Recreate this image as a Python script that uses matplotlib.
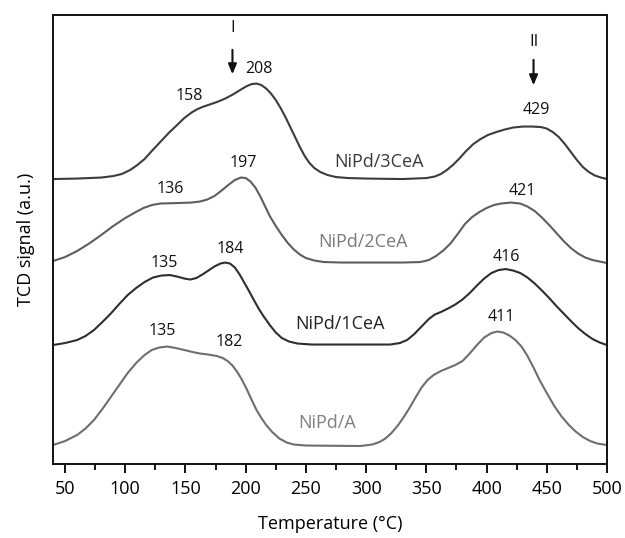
import matplotlib
matplotlib.use("Agg")
import matplotlib.pyplot as plt

plt.rcParams['font.family'] = ['Open Sans', 'DejaVu Sans']

# ---- data (TCD signal, a.u., curves already vertically offset) ----
T_3ce = [40, 60, 80, 90, 97, 104, 110, 116, 122, 129, 136, 143, 149, 155, 160, 165, 170, 176, 183, 190,
         196, 201, 205, 209, 213, 217, 221, 225, 229, 233, 237, 241, 245, 249, 253, 257, 262, 268, 275,
         285, 300, 330, 350, 357, 362, 367, 372, 377, 383, 389, 395, 401, 408, 415, 422, 430, 438, 445,
         450, 455, 460, 465, 470, 475, 480, 485, 490, 495, 500]
S_3ce = [285, 285.5, 286.5, 288, 290, 294, 299, 305, 313, 322, 331, 339, 346, 351.5, 355, 357.5, 359.5,
         362, 365.5, 370, 374.5, 378, 380, 380.5, 379, 375.5, 370.5, 364, 356, 347, 337, 327, 317, 308,
         301, 296, 292, 289, 287, 286, 285.5, 285, 286, 287.5, 290, 294, 299, 305, 313, 320, 325, 329,
         332, 334.5, 336.5, 337.5, 337.5, 337, 335.5, 332, 327, 320, 312, 304, 297, 292, 288.5, 286.5, 285]

T_2ce = [40, 50, 60, 70, 80, 90, 100, 108, 115, 122, 129, 143, 155, 162, 168, 174, 180, 186, 191, 196,
         200, 204, 208, 212, 216, 220, 225, 230, 235, 240, 245, 250, 257, 265, 280, 330, 345, 352, 358,
         364, 370, 376, 382, 388, 394, 400, 406, 412, 420, 428, 434, 440, 446, 452, 458, 464, 470, 476,
         482, 488, 494, 500]
S_2ce = [203, 207, 213, 220.5, 229, 238, 246, 251.5, 256, 259, 260.5, 261, 261.5, 262.5, 264.5, 268,
         273.5, 279.5, 284, 286.5, 286, 282.5, 276.5, 268, 258, 248, 238, 229, 221, 214.5, 209.5, 206,
         203.5, 202, 201.5, 201.5, 202, 204, 208, 213.5, 220.5, 230, 240, 247, 252, 256, 259, 260.5,
         261.5, 260.5, 257.5, 253, 246.5, 239, 231, 223, 216, 210.5, 206.5, 204, 202.5, 201]

T_1ce = [40, 50, 60, 67, 74, 81, 88, 95, 102, 109, 116, 123, 130, 137, 143, 149, 154, 159, 164, 169,
         174, 179, 183, 187, 191, 195, 199, 203, 207, 211, 215, 220, 225, 230, 236, 243, 255, 300, 320,
         328, 334, 340, 346, 352, 357, 362, 368, 374, 380, 386, 392, 398, 404, 410, 416, 422, 428, 434,
         440, 446, 452, 458, 464, 470, 476, 482, 488, 494, 500]
S_1ce = [119, 121, 124, 128, 134, 142, 150.5, 160, 169, 176, 182, 186.5, 188.5, 189, 187.5, 185.5,
         184.5, 186, 189.5, 193.5, 197.5, 200.5, 201.5, 200.5, 196.5, 189.5, 181, 172.5, 163.5, 155,
         147.5, 139, 131.5, 126, 122.5, 120.5, 119.5, 119.5, 119.5, 121, 124, 130, 137.5, 145, 149.5,
         152, 155.5, 159.5, 164.5, 171, 178.5, 185.5, 191, 194, 195, 193.5, 191, 186.5, 180.5, 173.5,
         166, 158, 150.5, 143, 136, 130, 125, 121.5, 119]

T_a = [40, 50, 60, 67, 74, 81, 88, 95, 102, 109, 116, 122, 128, 135, 142, 149, 156, 162, 169, 176, 181,
       185, 189, 193, 197, 201, 205, 209, 213, 217, 222, 228, 234, 240, 250, 295, 305, 311, 316, 321,
       326, 331, 336, 341, 346, 351, 356, 362, 368, 374, 380, 386, 392, 398, 404, 409, 414, 419, 424,
       429, 434, 439, 444, 450, 456, 462, 468, 474, 480, 486, 492, 500]
S_a = [19, 23, 29, 35.5, 44, 55, 67, 79, 91, 101, 109, 114, 116.5, 117.5, 116, 114, 112, 110.5, 109.5,
       108, 106, 103, 98.5, 92, 84, 74.5, 64, 54, 46, 39, 32, 25.5, 21.5, 19.5, 18.5, 18, 19.5, 22,
       25.5, 31, 38, 46.5, 56, 66.5, 76.5, 84, 89, 93, 96, 99, 103, 110.5, 119, 126.5, 131, 132.5,
       131.5, 128.5, 124, 117.5, 108, 96.5, 84, 71, 58.5, 48, 39.5, 32.5, 27, 23, 20.5, 19]

sample_names = ["NiPd/3CeA", "NiPd/2CeA", "NiPd/1CeA", "NiPd/A"]
name_pos = [(311, 302.5), (297, 222), (278, 140), (268, 41)]

peak_labels = ["158", "208", "429", "136", "197", "421", "135", "184", "416", "135", "182", "411"]
peak_pos = [(153, 368), (211, 395), (441, 354), (137, 275), (198, 301.5), (430, 273),
            (132, 201), (187, 215.5), (416, 207.5), (131, 133.5), (186, 122.5), (412, 147.5)]

region_labels = ["I", "II"]
region_x = [189, 439]

# ---- figure ----
fig = plt.figure(figsize=(6.25, 5.38), dpi=100)
ax = fig.add_axes([0.0848, 0.1375, 0.8864, 0.8345])

line_cols = ["#3c3c3c", "#5e5e5e", "#2e2e2e", "#6e6e6e"]
text_cols = ["#3a3a3a", "#7a7a7a", "#222222", "#808080"]
for (T, S), c in zip([(T_3ce, S_3ce), (T_2ce, S_2ce), (T_1ce, S_1ce), (T_a, S_a)], line_cols):
    ax.plot(T, S, color=c, lw=1.5, solid_capstyle='round', solid_joinstyle='round')

for name, (x, y), c in zip(sample_names, name_pos, text_cols):
    ax.text(x, y, name, fontsize=13, color=c, ha='center', va='center')

for lab, (x, y) in zip(peak_labels, peak_pos):
    ax.text(x, y, lab, fontsize=11.5, color='#111111', ha='center', va='center')

# arrows I and II
ax.annotate("", xy=(region_x[0], 387), xytext=(region_x[0], 417),
            arrowprops=dict(arrowstyle='-|>,head_width=0.25,head_length=0.6', color='#111111', lw=1.5))
ax.text(region_x[0], 436, region_labels[0], fontsize=12, ha='center', va='center', color='#111111')
ax.annotate("", xy=(region_x[1], 376), xytext=(region_x[1], 407),
            arrowprops=dict(arrowstyle='-|>,head_width=0.25,head_length=0.6', color='#111111', lw=1.5))
ax.text(region_x[1], 422, region_labels[1], fontsize=12, ha='center', va='center', color='#111111')

ax.set_xlim(40, 500)
ax.set_ylim(0, 449)
ax.set_xticks(range(50, 501, 50))
ax.set_xticks(range(75, 501, 50), minor=True)
ax.set_yticks([])
ax.tick_params(axis='x', which='major', direction='out', length=6.5, width=1.3, labelsize=13, pad=5)
ax.tick_params(axis='x', which='minor', direction='out', length=4.3, width=1.3)
for sp in ax.spines.values():
    sp.set_linewidth(1.4)
    sp.set_color('#111111')

ax.set_xlabel("Temperature (°C)", fontsize=13, labelpad=12)
ax.set_ylabel("TCD signal (a.u.)", fontsize=13, labelpad=13)

fig.savefig("out.png", dpi=100)
